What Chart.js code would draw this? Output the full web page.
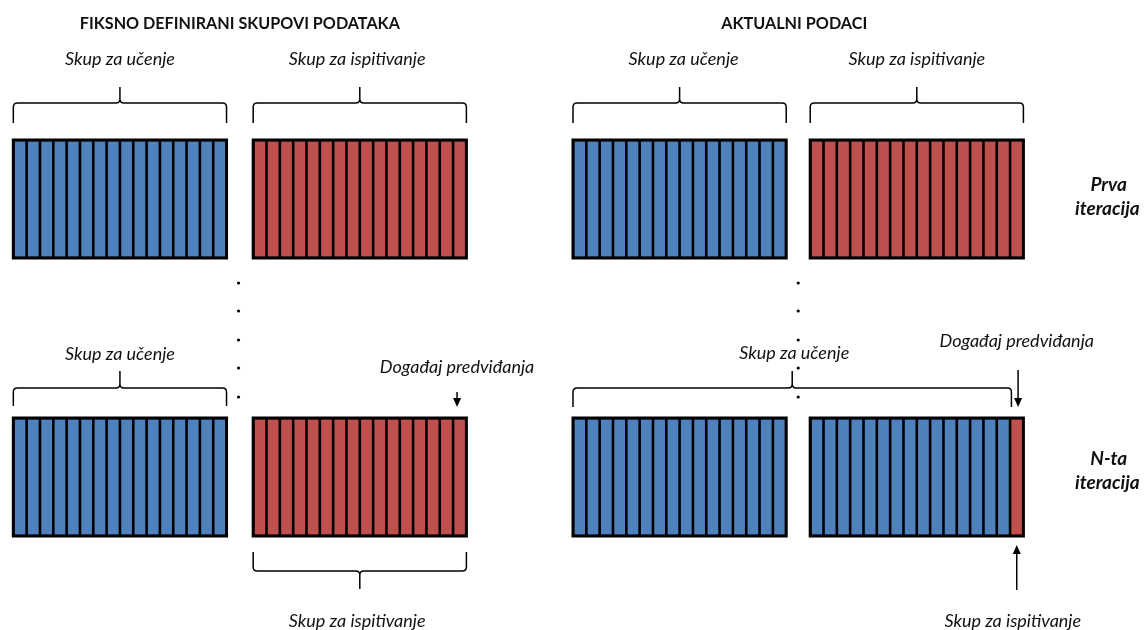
<!DOCTYPE html>
<html lang="hr">
<head>
<meta charset="UTF-8">
<title>Skupovi podataka</title>
<script src="https://cdn.jsdelivr.net/npm/chart.js"></script>
<style>
    body { margin: 0; background: #fff; }
    #wrap { width: 1146px; height: 630px; position: relative; }
</style>
</head>
<body>
<div id="wrap"><canvas id="c"></canvas></div>
<script>
// podaci: x u jedinicama trake, y u jedinicama visine slike
const panelTitles = ['FIKSNO DEFINIRANI SKUPOVI PODATAKA', 'AKTUALNI PODACI'];
const iterationLabels = [['Prva', 'iteracija'], ['N-ta', 'iteracija']];
const setLabels = ['Skup za učenje', 'Skup za ispitivanje'];
const eventLabel = 'Događaj predviđanja';
const stripesPerBlock = 16;
const blockStart = [1, 19, 43, 60.8];
const rowTop = [140, 418];
const rowHeight = 118;
// broj crvenih (ispitnih) traka na kraju svakog bloka, po retku
const testStripes = [[0, 16, 0, 16], [0, 16, 0, 1]];
const dotRows = [283, 311, 340, 368, 397];
const dotCols = [17.9, 59.9];

const BLUE = '#4F81BD', RED = '#C0504D';

const trainData = [], testData = [];
rowTop.forEach((top, r) => {
    blockStart.forEach((x0, b) => {
        for (let i = 0; i < stripesPerBlock; i++) {
            const pt = { x: x0 + i + 0.5, y: [top, top + rowHeight] };
            if (i >= stripesPerBlock - testStripes[r][b]) testData.push(pt);
            else trainData.push(pt);
        }
    });
});
const dots = [];
dotCols.forEach(x => dotRows.forEach(y => dots.push({ x: x, y: y })));

// zagrade: [od, do, y kraja, y linije, y vrha]
const braces = [
    [1, 17, 123, 103, 87], [19, 35, 123, 103, 87],
    [43, 59, 123, 103, 87], [60.8, 76.8, 123, 103, 87],
    [1, 17, 406, 388, 371],
    [19, 35, 552, 571, 589],
    [43, 75.9, 407, 388, 371]
];
// tekstovi: [tekst, x, y, stil, najveća širina]
const texts = [
    [panelTitles[0], 18, 24, 'title', 320], [panelTitles[1], 59.6, 24, 'title', 146],
    [setLabels[0], 9, 59, 'it'], [setLabels[1], 26.8, 59, 'it'],
    [setLabels[0], 51.3, 59, 'it'], [setLabels[1], 68.8, 59, 'it'],
    [setLabels[0], 9, 354, 'it'], [eventLabel, 34.3, 367, 'it'],
    [setLabels[0], 59.6, 353, 'it'], [eventLabel, 76.3, 341, 'it'],
    [setLabels[1], 26.8, 621, 'it'], [setLabels[1], 76, 621, 'it'],
    [iterationLabels[0][0], 83.2, 185, 'bi'], [iterationLabels[0][1], 83.1, 209, 'bi'],
    [iterationLabels[1][0], 83.2, 459, 'bi'], [iterationLabels[1][1], 83.1, 483, 'bi']
];
// strelice: [x, y od, y do]
const arrows = [[34.3, 392, 407], [76.4, 370, 407], [76.3, 590, 545]];

const fonts = {
    title: 'bold 17px Lato',
    it: 'italic 18px Lato',
    bi: 'italic bold 19px Lato'
};

function drawBrace(ctx, x0, x1, yEnd, yLine, yTip) {
    const m = (x0 + x1) / 2, d = Math.sign(yEnd - yLine), r = 4;
    ctx.beginPath();
    ctx.moveTo(x0, yEnd);
    ctx.lineTo(x0, yLine + d * r);
    ctx.quadraticCurveTo(x0, yLine, x0 + r, yLine);
    ctx.lineTo(m - r, yLine);
    ctx.quadraticCurveTo(m, yLine, m, yLine - d * r);
    ctx.lineTo(m, yTip);
    ctx.moveTo(m, yLine - d * r);
    ctx.quadraticCurveTo(m, yLine, m + r, yLine);
    ctx.lineTo(x1 - r, yLine);
    ctx.quadraticCurveTo(x1, yLine, x1, yLine + d * r);
    ctx.lineTo(x1, yEnd);
    ctx.stroke();
}

const diagramPlugin = {
    id: 'diagram',
    afterDatasetsDraw(chart) {
        const ctx = chart.ctx, xs = chart.scales.x, ys = chart.scales.y;
        const px = v => xs.getPixelForValue(v), py = v => ys.getPixelForValue(v);
        ctx.save();
        ctx.strokeStyle = '#000';
        // obrub blokova
        ctx.lineWidth = 3;
        rowTop.forEach(top => blockStart.forEach(x0 => {
            ctx.strokeRect(px(x0), py(top), px(x0 + stripesPerBlock) - px(x0), py(top + rowHeight) - py(top));
        }));
        // zagrade
        ctx.lineWidth = 1.5;
        braces.forEach(b => drawBrace(ctx, px(b[0]), px(b[1]), py(b[2]), py(b[3]), py(b[4])));
        // strelice
        ctx.fillStyle = '#000';
        arrows.forEach(a => {
            const x = px(a[0]), y0 = py(a[1]), y1 = py(a[2]), d = Math.sign(y1 - y0);
            ctx.beginPath();
            ctx.moveTo(x, y0);
            ctx.lineTo(x, y1 - d * 7);
            ctx.stroke();
            ctx.beginPath();
            ctx.moveTo(x, y1);
            ctx.lineTo(x - 4, y1 - d * 9);
            ctx.lineTo(x + 4, y1 - d * 9);
            ctx.closePath();
            ctx.fill();
        });
        // tekst
        ctx.textAlign = 'center';
        ctx.textBaseline = 'middle';
        ctx.fillStyle = '#111';
        texts.forEach(t => {
            ctx.font = fonts[t[3]];
            if (t[4]) ctx.fillText(t[0], px(t[1]), py(t[2]), t[4]);
            else ctx.fillText(t[0], px(t[1]), py(t[2]));
        });
        ctx.restore();
    }
};

new Chart(document.getElementById('c'), {
    type: 'bar',
    data: {
        datasets: [
            {
                label: setLabels[0], data: trainData, backgroundColor: BLUE,
                borderColor: '#000', borderWidth: 1.8, borderSkipped: false, inflateAmount: 0.5
            },
            {
                label: setLabels[1], data: testData, backgroundColor: RED,
                borderColor: '#000', borderWidth: 1.8, borderSkipped: false, inflateAmount: 0.5
            },
            {
                type: 'scatter', label: 'tocke', data: dots,
                pointRadius: 1.6, pointBackgroundColor: '#000', pointBorderWidth: 0
            }
        ]
    },
    options: {
        responsive: true,
        maintainAspectRatio: false,
        animation: false,
        grouped: false,
        barPercentage: 1,
        categoryPercentage: 1,
        layout: { padding: 0, autoPadding: false },
        plugins: { legend: { display: false }, tooltip: { enabled: false } },
        scales: {
            x: { type: 'linear', min: 0, max: 86, offset: false, display: false },
            y: { type: 'linear', min: 0, max: 630, reverse: true, display: false }
        }
    },
    plugins: [diagramPlugin]
});
</script>
</body>
</html>
